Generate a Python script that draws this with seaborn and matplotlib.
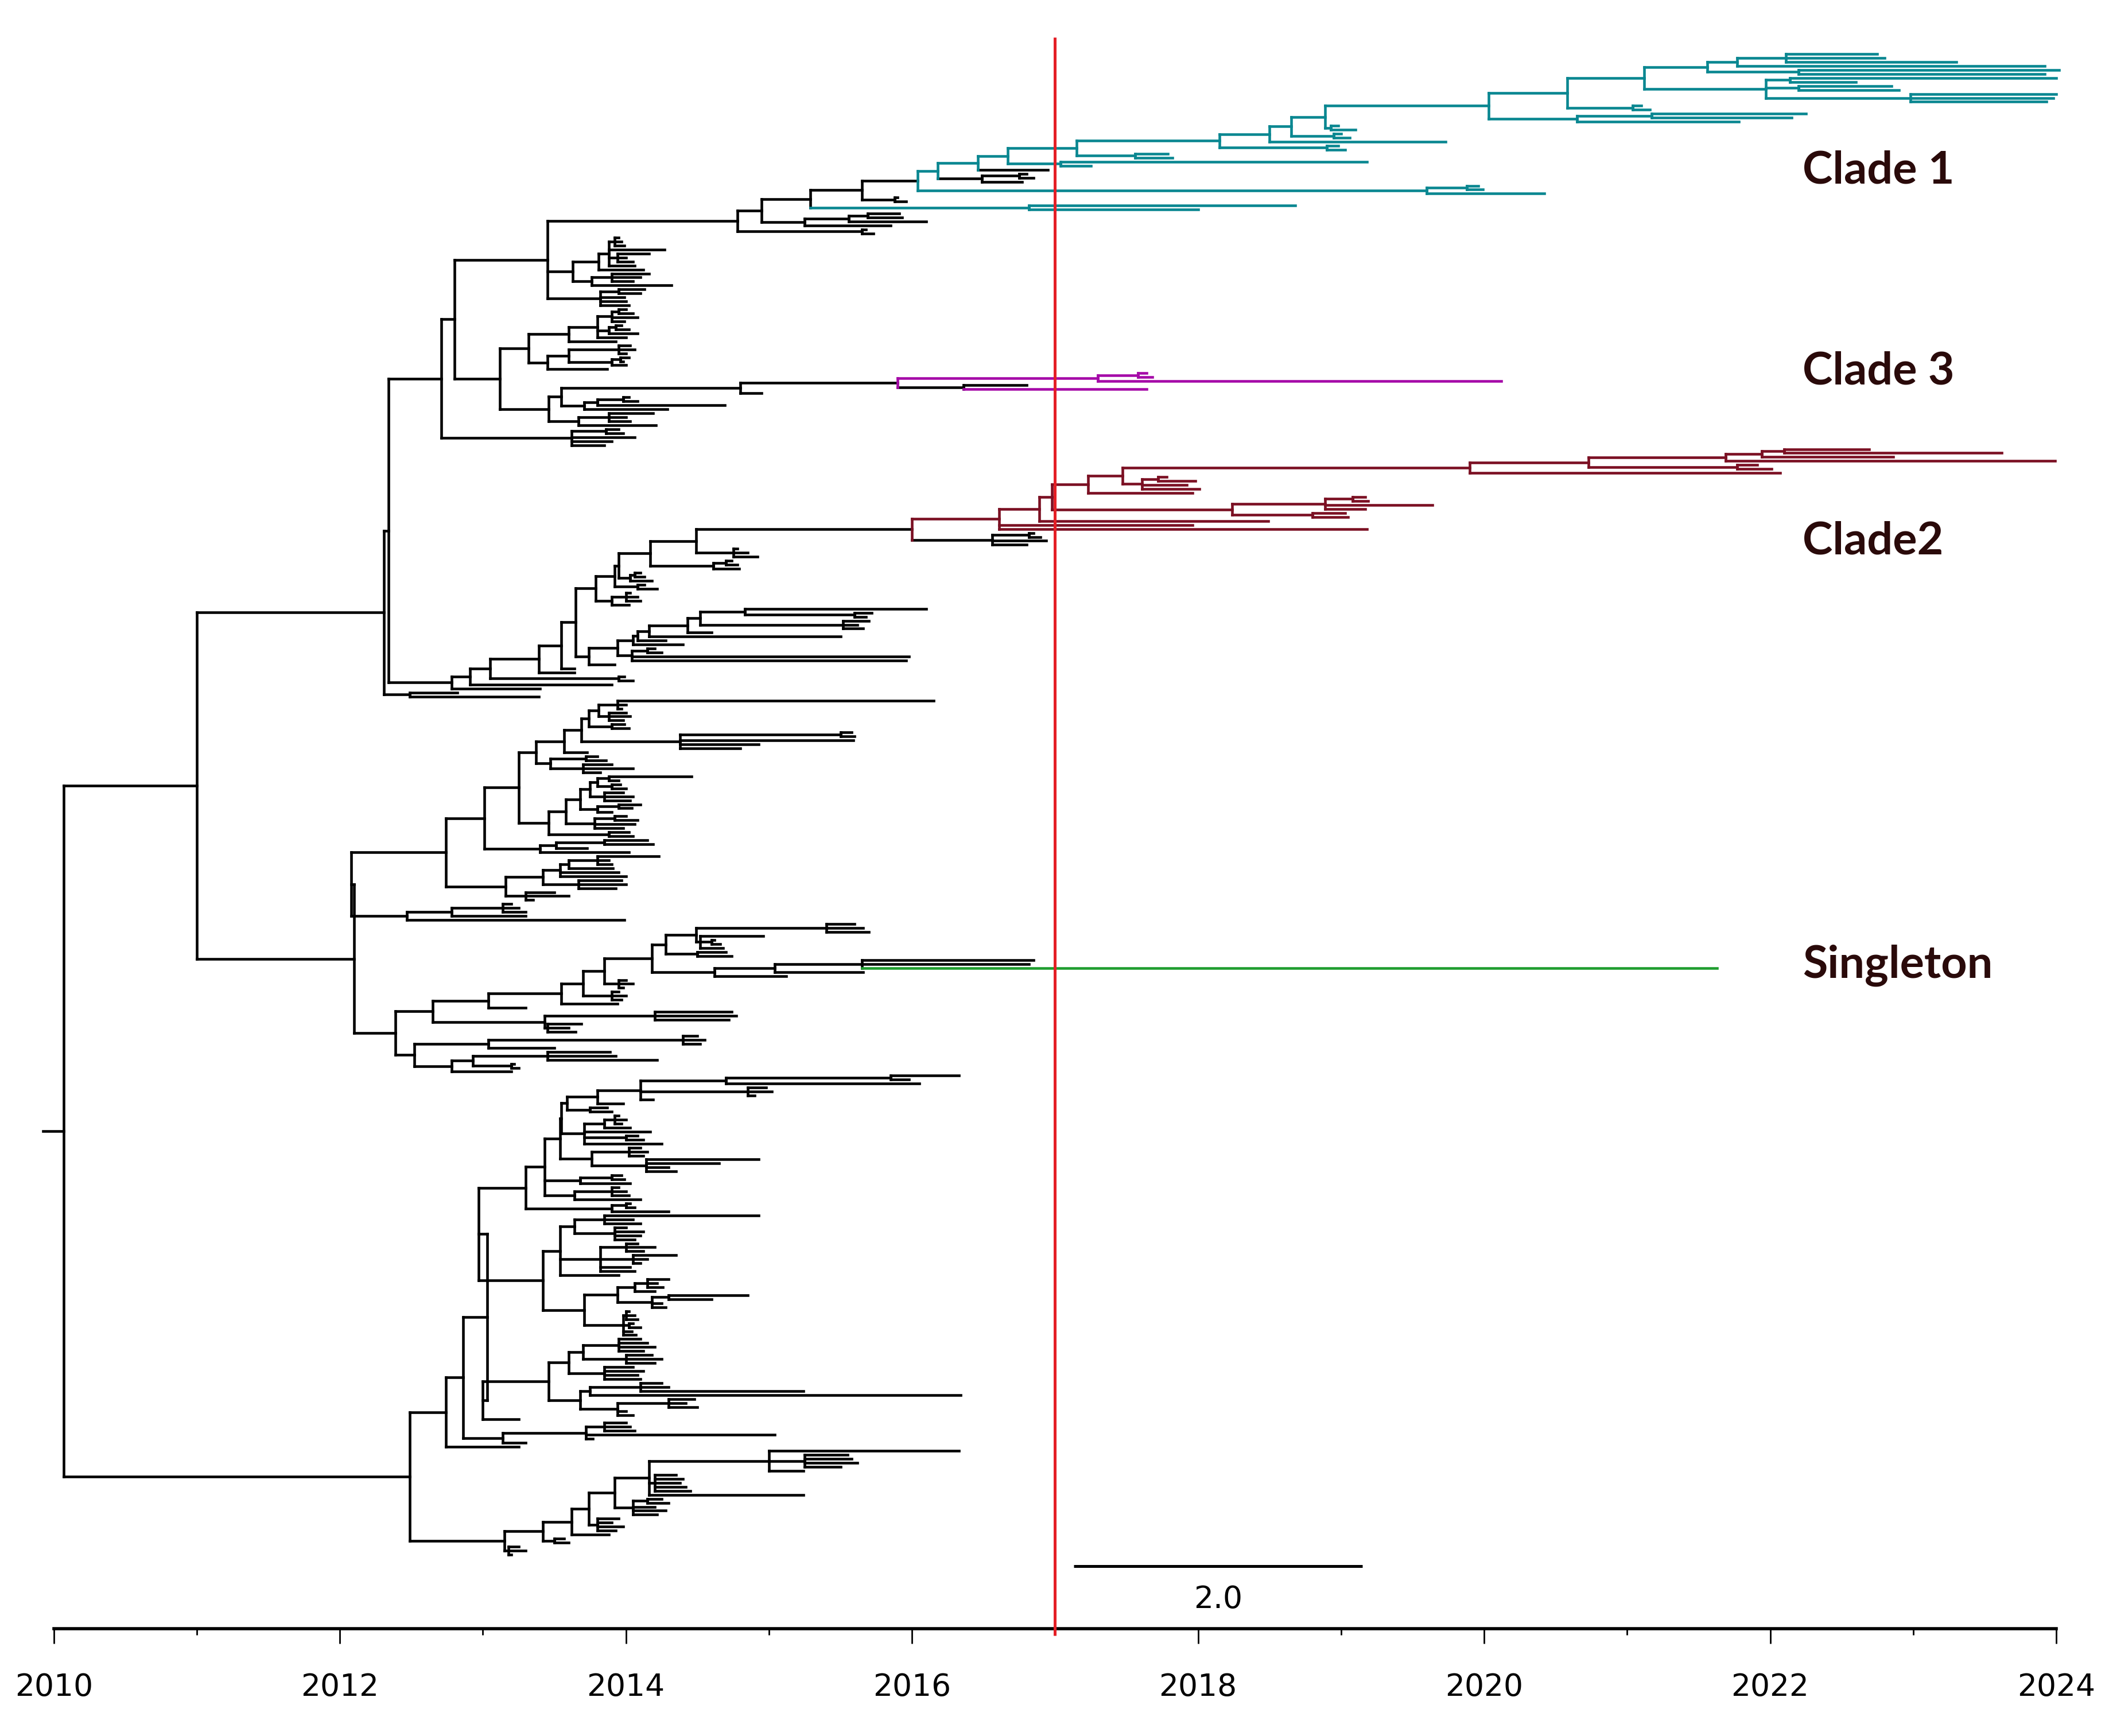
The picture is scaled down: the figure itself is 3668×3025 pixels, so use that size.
"""
Time-scaled phylogeny with coloured clades, a red reference line at 2017
and a 2-year scale bar.  Tree is written as nested Newick-style strings:
a leaf is its date, "(...)date" is an internal node at that date.
"@x" colours a node's vertical bar and everything below it,
"#x" colours its stem as well.
"""
import re
import pandas as pd
import seaborn as sns
import matplotlib
matplotlib.use("Agg")
import matplotlib.pyplot as plt
from matplotlib.ticker import MultipleLocator

# ── colours ───────────────────────────────────────────────────────────────
BLACK, TEAL, MAGENTA, MAROON, GREEN = "#000000", "#0a8791", "#a50aa8", "#7b1023", "#1f9d2f"
TAGS = {"k": BLACK, "t": TEAL, "p": MAGENTA, "m": MAROON, "g": GREEN}
RED = "#e41f26"
LABEL_COLOR = "#2a0a0a"

# ── clade 1 (top) ─────────────────────────────────────────────────────────
N1294 = "((2022.75,2022.8,2023.3)2022.11,2023.92)2021.77"
N1272 = f"({N1294},(2024.02,2023.92)2022.2)2021.56"
N1316 = "((2024.0,2022.6)2022.14,(2022.85,2022.9)2022.2,(2024.0,2023.98,2023.93)2022.98)2021.97"
N1225 = f"({N1272},{N1316})2021.12"
N1168 = f"({N1225},(2021.1,2021.16)2021.04)2020.58"
N1178 = "((2022.25,2022.15)2021.17,2021.78)2020.65"
N1109 = f"({N1168},{N1178})2020.03"
N986 = f"({N1109},(2018.98,2019.1)2018.93)2018.89"
N961 = f"({N986},(2019.0,2019.06)2018.95)2018.65"
N946 = f"({N961},2019.73)2018.5"
N908 = f"({N946},(2018.98,2019.03)2018.9)2018.15"
N802 = f"({N908},(2017.79,2017.82)2017.56)2017.15"
N751 = f"({N802},(2019.18,2017.25)2017.04)2016.67"
N728 = f"({N751},2016.95#k)2016.46"
N732 = "((2016.8,2016.85)2016.75,2016.77)2016.49#k"
N699 = f"({N728},{N732})2016.18"
N1065 = "((2019.96,2019.99)2019.88,2020.42)2019.6"
N684 = f"({N699},{N1065})2016.04@t"
N642 = f"({N684},(2015.9,2015.96)2015.88)2015.65"
N605 = f"({N642},(2018.68,2018.0)2016.82#t)2015.29"
N599 = "(((2015.91,2015.93)2015.69,2016.1)2015.56,2015.85)2015.25"
N565 = f"({N605},{N599})2014.95"
CLADE1_ANC = f"({N565},(2015.68,2015.73)2015.65)2014.78"

N453 = "((2013.95,2013.97,2013.99)2013.92,2014.27,(2014.16,2014.0,2014.05)2013.94,2014.06)2013.88"
N446 = f"({N453},2014.12)2013.81"
N441B = "((2014.16,2014.1,2014.05)2013.9,2014.32)2013.76"
N427 = f"({N446},{N441B})2013.63"
N447 = "((2014.13,2014.1)2013.95,2013.99,2014.0,2014.02)2013.82"
N408 = f"({CLADE1_ANC},{N427},{N447})2013.45"

# ── clade 3 and neighbours ────────────────────────────────────────────────
N443B = "(((2014.0,2014.05)2013.95,2014.08,2013.99)2013.9,((2013.97,2014.02)2013.93,2014.08)2013.88,2014.0)2013.8"
N424 = f"({N443B},2013.93)2013.6"
N408B = "(((2014.03,2014.06,2014.0)2013.95,((2014.02,2013.98)2013.96,2014.0)2013.9)2013.6,2013.87)2013.45"
N394 = f"({N424},{N408B})2013.32"
CLADE3 = "(((2017.64,2017.68)2017.58,2020.12)2017.3,(2016.8,2017.64#p)2016.36#k)2015.9@p"
N552 = f"({CLADE3},2014.95)2014.8"
N437 = "(((2014.02,2014.08)2013.98,2014.69)2013.8,2014.29)2013.71"
N419 = f"({N552},{N437})2013.55"
N433 = "((2014.19,2014.0,2014.03)2013.88,2014.21)2013.67"
N409 = f"({N419},{N433})2013.46"
N_D = f"({N394},{N409})2013.12"
N426 = "((2013.95,2013.98)2013.86,2014.06,2013.9,2013.85)2013.62"
N_C = f"({N408},{N_D})2012.8"
N_B = f"({N_C},{N426})2012.71"

# ── clade 2 and its ladder ────────────────────────────────────────────────
N1286 = "(((2022.69,2023.62)2022.1,2022.86)2021.94,2023.99)2021.69"
N1182 = f"({N1286},(2021.91,2022.01)2021.77)2020.73"
N1095 = f"({N1182},2022.07)2019.9"
N851 = "((2017.78,2017.98)2017.72,2017.92,2018.01)2017.61"
N836 = f"({N1095},{N851})2017.47"
N810 = f"({N836},2017.96)2017.23"
N918 = "(((2019.17,2019.19)2019.08,2019.64,2019.17)2018.89,(2019.03,2019.05)2018.8)2018.24"
N784 = f"({N810},{N918})2016.98"
N774 = f"({N784},2018.49)2016.89"
N745 = f"({N774},2017.96,2019.18)2016.61"
CLADE2 = f"({N745},((2016.85,2016.9)2016.82,2016.94,2016.8)2016.56#k)2016.0@m"

N518 = f"({CLADE2},(2014.78,2014.85,2014.92)2014.75)2014.49"
N531 = "((2014.74,2014.78)2014.7,2014.79)2014.61"
N484 = f"({N518},{N531})2014.17"
N469 = "((2014.1,2014.13)2014.06,2014.18)2014.03"
N461 = f"({N484},{N469})2013.95"
N458 = f"({N461},(2014.13,2014.22)2014.08)2013.92"
N455 = "((2014.03,2014.08,2014.1)2014.0,2014.02)2013.9"
N443 = f"({N458},{N455})2013.79"
N520 = "((2016.1,(2015.72,2015.68)2015.6)2014.83,(2015.7,2015.62,2015.66)2015.52)2014.52"
N512 = f"({N520},2014.6)2014.43"
N482 = f"({N512},2015.5)2014.16"
N474 = f"({N482},2014.28)2014.08"
N470 = f"({N474},2014.4)2014.05"
N471 = "((2014.2,2014.25)2014.15,2015.98,2015.96)2014.04"
N459 = f"({N470},{N471})2013.94"
N441 = f"({N459},2013.92)2013.74"
N429 = f"({N443},{N441})2013.65"
N417 = f"({N429},2013.64)2013.55"
N401 = f"({N417},2013.64)2013.39"
N365 = f"({N401},(2013.99,2014.05)2013.95)2013.05"
N350 = f"({N365},2013.9)2012.91"
N336 = f"({N350},2013.4)2012.78"
Q = f"({N_B},{N336})2012.34"
A288 = f"({Q},(2012.82,2013.39)2012.49)2012.31"

# ── middle block ──────────────────────────────────────────────────────────
N303 = "(((2013.2,2013.25,2013.3)2013.14,2013.3)2012.78,2013.99)2012.47"
N416 = "(((2014.23,2013.88,2013.9)2013.8,2013.91)2013.6,2013.95,2014.0)2013.54"
N403 = f"({N416},(2013.97,2014.0,2013.93)2013.67)2013.42"
N376 = f"({N403},(2013.5,2013.6,2013.35)2013.3)2013.16"
N402 = "(((2014.15,2014.19)2013.85,2013.73)2013.51,2014.02)2013.4"
N410 = ("((((((2014.46,2013.95)2013.88,(2013.96,2014.0)2013.9)2013.8,"
        "(2013.98,2014.05,2014.03)2013.85)2013.75,((2014.1,2014.04)2013.95,2013.9)2013.8)2013.68,"
        "((2014.0,2014.08)2013.92,2014.06,2013.98)2013.78)2013.58,(2014.02,2014.05)2013.88)2013.46")
N445 = "((2016.15,2014.0,2013.97)2013.94,(2014.0,2014.03,2013.98)2013.88)2013.81"
N438 = f"({N445},(2013.99,2014.02)2013.9)2013.74"
N507 = "((2015.58,2015.6)2015.5,2015.59,2014.93,2014.8)2014.38"
N433C = f"({N438},{N507})2013.69"
N421 = f"({N433C},2013.73)2013.57"
N411 = "((2013.8,2013.86)2013.72,(2013.9,2014.05,2013.82)2013.7)2013.47"
N399 = f"({N421},{N411})2013.37"
N386 = f"({N399},{N410})2013.25"
N360B = f"({N386},{N402})2013.01"
N331 = f"({N360B},{N376})2012.74"
Q2 = f"({N331},{N303})2012.08"

# ── singleton block ───────────────────────────────────────────────────────
NS = "(2016.85,2016.82,2021.63#g)2015.65"
N577 = f"({NS},2015.66)2015.04"
N532 = f"({N577},2015.12)2014.62"
N518B = "((2015.6,2015.66,2015.7)2015.4,(2014.96,(2014.62,2014.66)2014.6,2014.68)2014.52)2014.49"
N496 = f"({N518B},(2014.7,2014.74)2014.5)2014.28"
N486 = f"({N496},{N532})2014.18"
N450 = f"({N486},(2014.0,2014.05,2013.98)2013.95)2013.85"
N435 = f"({N450},(2013.95,2014.0,2013.97)2013.9)2013.7"
N418 = f"({N435},2013.94)2013.55"
N364A = f"({N418},2013.3)2013.04"
N403B = "((2014.74,2014.77,2014.72)2014.2,(2013.69,2013.6,2013.65)2013.45)2013.43"
N323 = f"({N364A},{N403B})2012.65"
N364B = "((2014.5,2014.55,2014.52)2014.4,2013.5)2013.04"
N336B = "(((2013.89,2013.93,2014.22)2013.45,(2013.22,2013.25)2013.2)2012.93,2013.2)2012.78"
N309 = f"({N364B},{N336B})2012.52"
N295 = f"({N323},{N309})2012.39"
B263 = f"({Q2},{N295})2012.1"
UP = f"({A288},{B263})2011.0"

# ── lower block ───────────────────────────────────────────────────────────
N482C = ("((2016.33,(2015.55,2015.58,2015.62,2015.5)2015.25,2015.24)2015.0,"
         "(2014.35,2014.4,2014.38,2014.42,2014.45)2014.2,2015.24)2014.16")
N457 = f"({N482C},((2014.25,2014.3)2014.15,2014.2,2014.28,2014.22)2014.05)2013.92"
N446C = f"({N457},(2013.95,2013.9,2013.98,2013.93)2013.8)2013.74"
N426C = f"({N446C},2013.88)2013.62"
N404C = f"({N426C},(2013.57,2013.6)2013.5)2013.42"
N371 = f"({N404C},(2013.25,2013.3,2013.2)2013.18)2013.15"
N436 = "((2014.0,2014.03,2014.06)2013.85,2015.04,2013.77)2013.72"
N375 = f"({N436},2013.3)2013.14"
N408U = ("(((2014.1,2014.15,2014.2,2014.12)2013.95,(2014.18,2014.25,2014.2)2014.0)2013.7,"
         "(2014.05,2014.12,2014.08,2014.1)2013.85)2013.6")
N408L = ("(((2014.25,2014.3,2015.24)2014.1,2016.34)2013.75,"
         "((2014.48,2014.42,2014.5)2014.3,2014.0,2014.05)2013.94)2013.68")
N408C = f"({N408U},{N408L})2013.46"
N360 = f"({N408C},2013.25)2013.0"
N428C = "((2014.93,2014.05,2014.1)2013.85,(2014.0,2014.12,2014.1,2014.06)2013.92)2013.64"
N446D = "((2014.08,2014.2,2014.12)2014.0,(2014.35,2014.15,2014.1)2014.05,2014.03,2014.06)2013.82"
N418C = f"({N428C},{N446D},2013.95)2013.54"
N460 = "(((2014.3,2014.22,2014.26)2014.15,2014.2)2014.06,((2014.85,2014.6)2014.3,2014.25,2014.28)2014.18)2013.94"
N470C = "((2014.02,2014.06,2014.08)2014.0,(2014.05,2014.1)2014.02,2014.04,2014.07)2013.98"
N437C = f"({N460},{N470C})2013.71"
N404D = f"({N418C},{N437C})2013.42"
N473 = "(((2016.33,2015.98)2015.85,2016.05)2014.7,(2014.98,2015.02,2014.9)2014.85,2014.19)2014.1"
N444 = f"({N473},2013.98)2013.8"
N422 = f"({N444},(2013.87,2013.9)2013.75)2013.59"
N434 = "(((2013.95,2014.0,2013.97)2013.92,2014.03)2013.85,2014.17,(2014.08,2014.12)2014.0,2014.25)2013.71"
N418D = f"({N422},{N434})2013.55"
N441C = "((2014.1,2014.15,2014.12)2014.02,(2014.93,2014.65,2014.3,2014.35)2014.14)2013.76"
N417C = f"({N418D},{N441C})2013.54"
N431C = "((2013.97,2013.99)2013.9,2014.03)2013.68"
N428D = "((2013.95,2014.0,2014.02)2013.9,2014.1)2013.64"
N405C = f"({N417C},{N431C},{N428D})2013.43"
N456 = "((2014.03,2014.06)2014.0,2014.3)2013.9"
N392 = f"({N405C},{N456})2013.3"
N357 = f"({N392},{N404D})2012.97"
N363 = f"({N357},{N360})2013.03"
N345 = f"({N363},{N375})2012.86"
N332 = f"({N345},2013.25)2012.74"
LOWER = f"({N332},{N371})2012.49"

TREE = f"({UP},{LOWER})2010.07"
ROOT_STUB_START = 2009.925

REF_YEAR = 2017.0
SCALE_BAR = (2017.13, 2019.15)
SCALE_LABEL = "2.0"
CLADE_LABELS = ["Clade 1", "Clade 3", "Clade2", "Singleton"]


# ── parse & lay out ───────────────────────────────────────────────────────
def parse(text):
    pos = 0
    num = re.compile(r"([0-9.]+)([@#][a-z])?")

    def read():
        nonlocal pos
        kids = []
        if text[pos] == "(":
            pos += 1
            kids.append(read())
            while text[pos] == ",":
                pos += 1
                kids.append(read())
            pos += 1  # ')'
        m = num.match(text, pos)
        pos = m.end()
        return {"t": float(m.group(1)), "tag": m.group(2), "kids": kids}

    return read()


root = parse(TREE)
n_tips = 0


def place(node):
    global n_tips
    if not node["kids"]:
        node["y"] = n_tips
        n_tips += 1
        return
    for k in node["kids"]:
        place(k)
    node["y"] = (node["kids"][0]["y"] + node["kids"][-1]["y"]) / 2


def paint(node, inherited):
    tag = node["tag"]
    if tag:
        col = TAGS[tag[1]]
        node["stem"] = col if tag[0] == "#" else inherited
        node["bar"] = col
    else:
        node["stem"] = node["bar"] = inherited
    for k in node["kids"]:
        paint(k, node["bar"])


place(root)
paint(root, BLACK)

rows = []
seg = 0


def collect(node, parent_t):
    global seg
    rows.append((seg, parent_t, node["y"], node["stem"]))
    rows.append((seg, node["t"], node["y"], node["stem"]))
    seg += 1
    if node["kids"]:
        rows.append((seg, node["t"], node["kids"][0]["y"], node["bar"]))
        rows.append((seg, node["t"], node["kids"][-1]["y"], node["bar"]))
        seg += 1
        for k in node["kids"]:
            collect(k, node["t"])


collect(root, ROOT_STUB_START)
segs = pd.DataFrame(rows, columns=["seg", "x", "y", "colour"])

# ── style ────────────────────────────────────────────────────────────────
sns.set_theme(style="white")
plt.rcParams["font.family"] = ["DejaVu Sans"]

W_PX, H_PX, DPI = 3668, 3025, 100
AXIS_PX = 2838          # px from top of the time axis
TOP_TIP_PX, BOT_TIP_PX = 94, 2709

fig = plt.figure(figsize=(W_PX / DPI, H_PX / DPI), dpi=DPI)
ax = fig.add_axes([0, 1 - AXIS_PX / H_PX, 1, AXIS_PX / H_PX])

k = (n_tips - 1) / (BOT_TIP_PX - TOP_TIP_PX)


def yval(px):
    return (px - TOP_TIP_PX) * k


sns.lineplot(
    data=segs, x="x", y="y", units="seg", estimator=None, sort=False,
    hue="colour", hue_order=[BLACK, TEAL, MAGENTA, MAROON, GREEN],
    palette={c: c for c in [BLACK, TEAL, MAGENTA, MAROON, GREEN]},
    legend=False, linewidth=3.3, solid_capstyle="projecting", ax=ax,
)

ax.set_xlim(2009.624, 2024.341)
ax.set_ylim(yval(AXIS_PX), yval(0))

# red reference line and scale bar
ax.plot([REF_YEAR, REF_YEAR], [yval(65), yval(2850)], color=RED, lw=3.6,
        zorder=5, clip_on=False, solid_capstyle="butt")
ax.plot(SCALE_BAR, [yval(2729)] * 2, color=BLACK, lw=3.6, solid_capstyle="butt")
ax.text(sum(SCALE_BAR) / 2, yval(2787), SCALE_LABEL, ha="center", va="center",
        fontsize=38.5, color=BLACK)

# clade labels (baseline positions, px from top)
label_baseline_px = [320, 669, 966, 1704]
for txt, py in zip(CLADE_LABELS, label_baseline_px):
    ax.text(2022.227, yval(py), txt, ha="left", va="baseline", fontsize=57,
            fontweight="bold", color=LABEL_COLOR, family=["Lato", "DejaVu Sans"])

# time axis
for side in ("left", "right", "top"):
    ax.spines[side].set_visible(False)
ax.spines["bottom"].set_bounds(2010, 2024)
ax.spines["bottom"].set_linewidth(4.0)
ax.spines["bottom"].set_color(BLACK)
ax.xaxis.set_major_locator(MultipleLocator(2))
ax.xaxis.set_minor_locator(MultipleLocator(1))
ax.set_xticks(range(2010, 2025, 2))
ax.set_xticklabels([str(y) for y in range(2010, 2025, 2)])
ax.tick_params(axis="x", which="major", bottom=True, direction="out", length=18.7,
               width=2.0, color=BLACK, pad=36, labelsize=38.5, labelcolor=BLACK)
ax.tick_params(axis="x", which="minor", bottom=True, direction="out", length=8,
               width=2.0, color=BLACK)
ax.set_yticks([])
ax.set_xlabel("")
ax.set_ylabel("")

fig.savefig("out.png", dpi=DPI, facecolor="white")
plt.close(fig)
print("tips:", n_tips)
